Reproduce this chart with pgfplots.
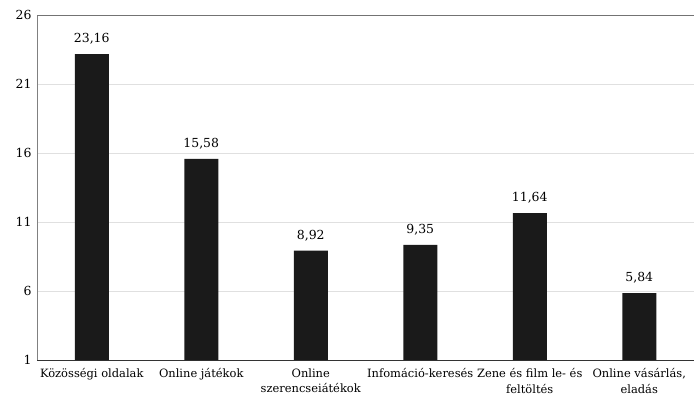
\documentclass[border=0pt]{standalone}
\usepackage{pgfplots}
\pgfplotsset{compat=1.18}
\usepackage{fontspec}
\setmainfont{DejaVu Serif}

\definecolor{barfill}{HTML}{1A1A1A}
\definecolor{gridc}{HTML}{E0E0E0}

\begin{document}
\begin{tikzpicture}
  \begin{axis}[
      name=ax,
      scale only axis,
      width=657bp, height=345bp,
      xmin=-0.5, xmax=5.5,
      ymin=1, ymax=26,
      ytick={1,6,11,16,21,26},
      xtick=data,
      xticklabels={Közösségi oldalak, Online játékok, {Online\\szerencseiátékok},
                   Infomáció-keresés, {Zene és film le- és\\feltöltés}, {Online vásárlás,\\eladás}},
      xticklabel style={align=center, font=\fontsize{11.5}{15.5}\selectfont, yshift=-5bp},
      yticklabel style={font=\fontsize{12.5}{14}\selectfont, xshift=-2bp},
      /pgf/number format/assume math mode=true,
      axis x line*=bottom, axis y line*=left,
      x axis line style={draw=black!80, line width=0.9pt, -},
      y axis line style={draw=black!50, line width=0.8pt, -},
      major tick length=0pt,
      ymajorgrids, grid style={draw=gridc, line width=0.8pt},
      ybar, bar width=34bp,
      nodes near coords,
      nodes near coords style={font=\fontsize{12.5}{14}\selectfont, black, yshift=6bp,
        /pgf/number format/.cd, fixed, fixed zerofill, precision=2, use comma, assume math mode=true},
      clip=false,
    ]
    \addplot[fill=barfill, draw=none] coordinates {
      (0,23.16) (1,15.58) (2,8.92) (3,9.35) (4,11.64) (5,5.84)};
    \draw[black!55, line width=1pt] (axis cs:-0.5,26) -- (axis cs:5.5,26);
  \end{axis}
  \pgfresetboundingbox
  \useasboundingbox ([xshift=-37bp,yshift=-37bp]ax.south west) rectangle ([yshift=15bp]ax.north east);
\end{tikzpicture}
\end{document}
